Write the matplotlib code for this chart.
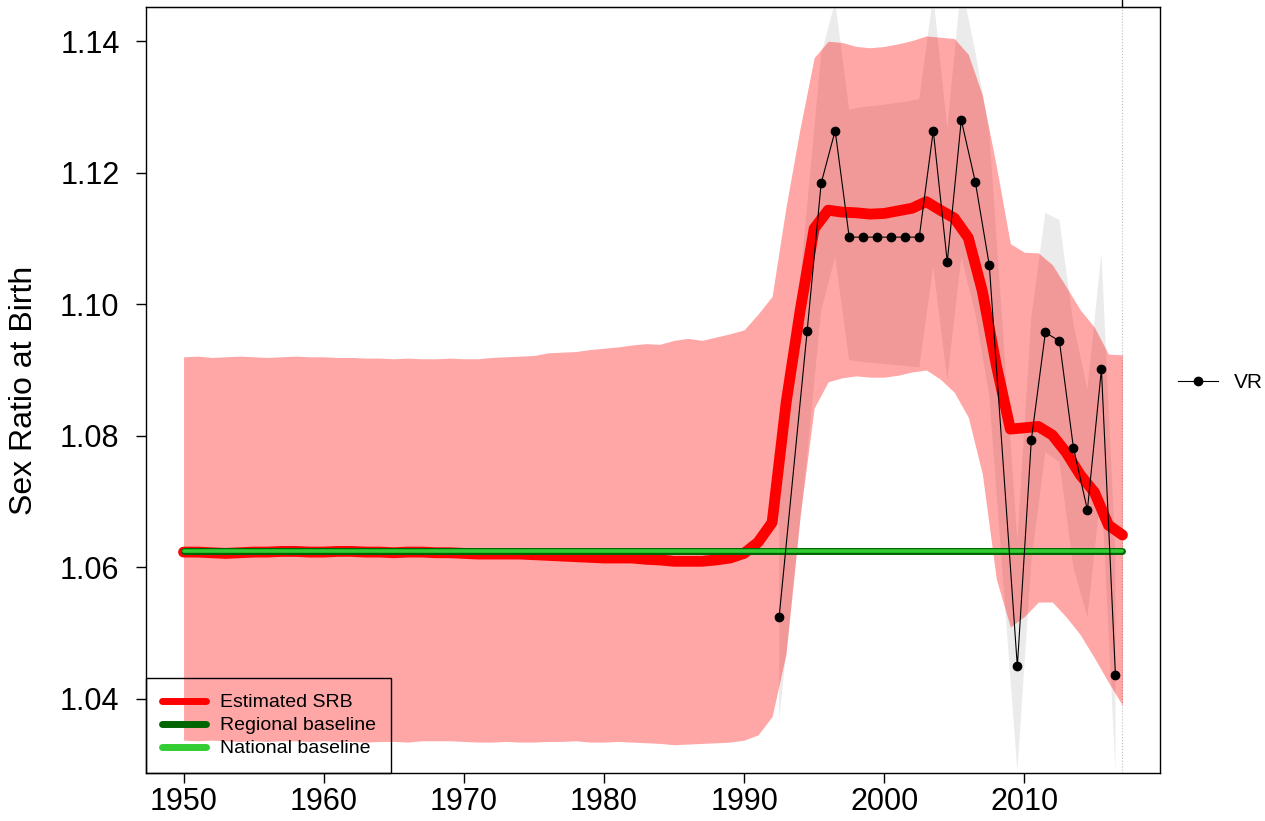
import matplotlib
matplotlib.use('Agg')
import matplotlib.pyplot as plt
from matplotlib.lines import Line2D
import numpy as np

plt.rcParams['font.family'] = ['Liberation Sans', 'DejaVu Sans']

years = list(range(1950, 2018))

srb_est = [
    1.0623, 1.0623, 1.0622, 1.0621, 1.0622, 1.0623, 1.0623, 1.0624, 1.0624, 1.0623,
    1.0623, 1.0624, 1.0624, 1.0623, 1.0623, 1.0622, 1.0623, 1.0623, 1.0622, 1.0622,
    1.0621, 1.0620, 1.0620, 1.0620, 1.0620, 1.0619, 1.0618, 1.0617, 1.0616, 1.0615,
    1.0614, 1.0614, 1.0614, 1.0612, 1.0611, 1.0609, 1.0609, 1.0609, 1.0611, 1.0614,
    1.0621, 1.0638, 1.0668, 1.0850, 1.0990, 1.1115, 1.1143, 1.1140, 1.1139, 1.1137,
    1.1138, 1.1142, 1.1146, 1.1156, 1.1143, 1.1131, 1.1101, 1.1020, 1.0907, 1.0810,
    1.0812, 1.0814, 1.0801, 1.0774, 1.0740, 1.0714, 1.0664, 1.0649,
]

srb_upper = [
    1.0920, 1.0921, 1.0919, 1.0920, 1.0921, 1.0920, 1.0919, 1.0920, 1.0921, 1.0920,
    1.0920, 1.0919, 1.0919, 1.0918, 1.0918, 1.0917, 1.0918, 1.0917, 1.0917, 1.0918,
    1.0917, 1.0917, 1.0919, 1.0920, 1.0921, 1.0922, 1.0926, 1.0927, 1.0928, 1.0931,
    1.0933, 1.0935, 1.0938, 1.0940, 1.0939, 1.0945, 1.0948, 1.0945, 1.0950, 1.0955,
    1.0961, 1.0985, 1.1012, 1.1149, 1.1268, 1.1375, 1.1400, 1.1398, 1.1392, 1.1390,
    1.1392, 1.1396, 1.1401, 1.1408, 1.1406, 1.1404, 1.1380, 1.1318, 1.1210, 1.1092,
    1.1079, 1.1078, 1.1060, 1.1026, 1.0991, 1.0965, 1.0924, 1.0923,
]

srb_lower = [
    1.0337, 1.0336, 1.0337, 1.0336, 1.0335, 1.0336, 1.0335, 1.0336, 1.0336, 1.0335,
    1.0336, 1.0335, 1.0335, 1.0334, 1.0335, 1.0335, 1.0334, 1.0336, 1.0336, 1.0336,
    1.0335, 1.0334, 1.0334, 1.0335, 1.0334, 1.0334, 1.0335, 1.0335, 1.0336, 1.0334,
    1.0334, 1.0335, 1.0334, 1.0333, 1.0332, 1.0330, 1.0331, 1.0332, 1.0333, 1.0334,
    1.0337, 1.0345, 1.0373, 1.0469, 1.0678, 1.0842, 1.0882, 1.0888, 1.0891, 1.0889,
    1.0889, 1.0892, 1.0897, 1.0900, 1.0886, 1.0866, 1.0828, 1.0742, 1.0582, 1.0509,
    1.0525, 1.0547, 1.0547, 1.0524, 1.0497, 1.0462, 1.0425, 1.0390,
]

regional_baseline = 1.0624
national_baseline = 1.0624

vr_years = [1992.5, 1994.5, 1995.5, 1996.5, 1997.5, 1998.5, 1999.5, 2000.5, 2001.5,
            2002.5, 2003.5, 2004.5, 2005.5, 2006.5, 2007.5, 2009.5, 2010.5, 2011.5,
            2012.5, 2013.5, 2014.5, 2015.5, 2016.5]
vr_srb = [1.0524, 1.0959, 1.1184, 1.1264, 1.1102, 1.1102, 1.1102, 1.1102, 1.1102,
          1.1102, 1.1264, 1.1064, 1.1280, 1.1186, 1.1059, 1.0449, 1.0794, 1.0957,
          1.0944, 1.0782, 1.0687, 1.0901, 1.0436]
vr_upper = [1.0690, 1.1150, 1.1380, 1.1460, 1.1296, 1.1300, 1.1302, 1.1305, 1.1308,
            1.1312, 1.1470, 1.1267, 1.1488, 1.1384, 1.1260, 1.0640, 1.0980, 1.1139,
            1.1128, 1.0970, 1.0870, 1.1078, 1.0620]
vr_lower = [1.0368, 1.0770, 1.0990, 1.1072, 1.0915, 1.0912, 1.0910, 1.0908, 1.0906,
            1.0904, 1.1057, 1.0885, 1.1072, 1.0986, 1.0860, 1.0290, 1.0610, 1.0775,
            1.0760, 1.0600, 1.0524, 1.0720, 1.0292]

end_year = 2017

fig = plt.figure(figsize=(12.65, 8.21), dpi=100)
ax = fig.add_axes([146 / 1265, 1 - 773 / 821, (1160 - 146) / 1265, (773 - 7) / 821])

# uncertainty of the VR observations, then the estimate band on top
ax.fill(vr_years + vr_years[::-1], vr_upper + vr_lower[::-1],
        color='#EBEBEB', lw=0, zorder=1)
ax.fill_between(years, srb_lower, srb_upper, color='red', alpha=0.35, lw=0, zorder=2)
ax.axvline(end_year, color='#BBBBBB', ls=':', lw=0.8, zorder=1)

ax.plot(years, srb_est, color='red', lw=7.8, solid_capstyle='round', zorder=3)
ax.plot([years[0], years[-1]], [regional_baseline] * 2, color='darkgreen', lw=5,
        solid_capstyle='round', zorder=4)
ax.plot([years[0], years[-1]], [national_baseline] * 2, color='limegreen', lw=2.6,
        solid_capstyle='round', zorder=5)
ax.plot(vr_years, vr_srb, color='black', lw=0.8, marker='o', ms=6, zorder=6)

ax.set_xlim(1947.32, 2019.68)
ax.set_ylim(1.0287, 1.1452)
ax.set_xticks([1950, 1960, 1970, 1980, 1990, 2000, 2010])
ax.set_yticks([1.04, 1.06, 1.08, 1.10, 1.12, 1.14])
ax.set_yticklabels(['%.2f' % v for v in [1.04, 1.06, 1.08, 1.10, 1.12, 1.14]])
ax.tick_params(axis='both', direction='out', length=7, width=1, labelsize=22)
ax.tick_params(axis='x', pad=3)
ax.tick_params(axis='y', pad=12)
for sp in ax.spines.values():
    sp.set_linewidth(1)
    sp.set_color('black')

top = ax.secondary_xaxis('top')
top.set_xticks([end_year])
top.set_xticklabels([''])
top.tick_params(direction='out', length=7, width=1)

ax.set_ylabel('Sex Ratio at Birth', fontsize=23)
ax.yaxis.set_label_coords(-0.106, 0.5)

handles = [
    Line2D([], [], color='red', lw=5, solid_capstyle='round'),
    Line2D([], [], color='darkgreen', lw=5, solid_capstyle='round'),
    Line2D([], [], color='limegreen', lw=5, solid_capstyle='round'),
]
leg = ax.legend(handles, ['Estimated SRB', 'Regional baseline', 'National baseline'],
                loc='lower left', bbox_to_anchor=(0, 0), borderaxespad=0,
                fontsize=14, frameon=True, fancybox=False, framealpha=1,
                facecolor='none', edgecolor='black', handlelength=2.3,
                handletextpad=0.7, labelspacing=0.28, borderpad=0.8)
leg.get_frame().set_linewidth(1)
ax.add_artist(leg)

vr_handle = Line2D([], [], color='black', lw=0.8, marker='o', ms=6)
ax.legend([vr_handle], ['VR'], loc='center left', bbox_to_anchor=(1.01, 0.51),
          frameon=False, fontsize=15, handlelength=1.9, handletextpad=0.75,
          borderaxespad=0)

fig.savefig('out.png', dpi=100)
